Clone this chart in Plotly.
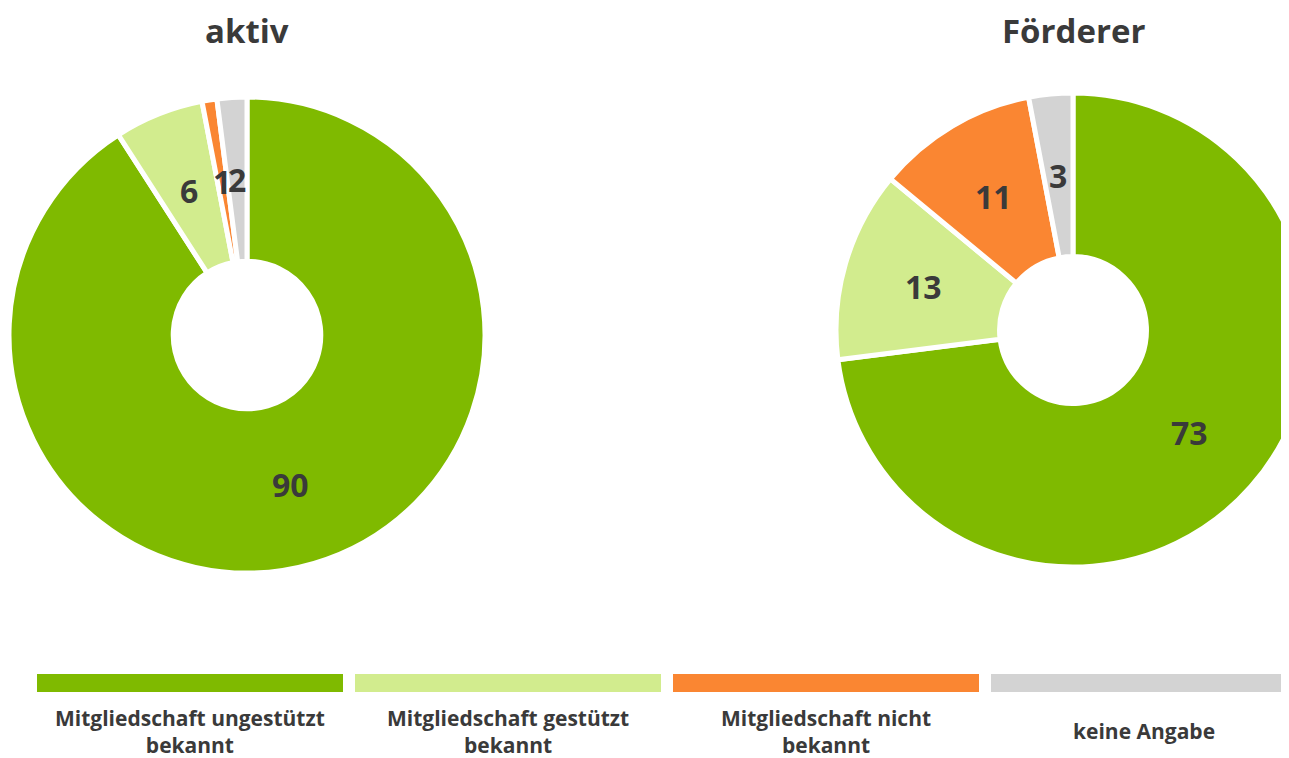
import numpy as np
import plotly.graph_objects as go

# page body has an 8px default margin; figure is drawn at (8, 8) in the window
OFF = 8
W, H = 1310, 750

# ---- data ----
categories = ["Mitgliedschaft ungestützt bekannt", "Mitgliedschaft gestützt bekannt",
              "Mitgliedschaft nicht bekannt", "keine Angabe"]
legend_labels = ["Mitgliedschaft ungestützt<br>bekannt", "Mitgliedschaft gestützt<br>bekannt",
                 "Mitgliedschaft nicht<br>bekannt", "keine Angabe"]
aktiv_values = [90, 6, 1, 2]
foerderer_values = [73, 13, 11, 3]
titles = ["aktiv", "Förderer"]

colors = ["#7FBA00", "#D2EC8E", "#FA8632", "#D3D3D3"]
TEXT = "#3A3A3A"
FONT = "Open Sans"

# ---- layout geometry (window pixels) ----
pies = [
    dict(values=aktiv_values, title=titles[0], cx=247, cy=335, r=238),
    dict(values=foerderer_values, title=titles[1], cx=1073, cy=330, r=237),
]
HOLE = 0.31

def px_x(x):
    return (x - OFF) / W

def px_y(y):
    return 1 - (y - OFF) / H

fig = go.Figure()
annotations = []

for p in pies:
    cx, cy, r = p["cx"], p["cy"], p["r"]
    fig.add_trace(go.Pie(
        labels=categories,
        values=p["values"],
        sort=False,
        direction="clockwise",
        rotation=0,
        hole=HOLE,
        textinfo="none",
        hoverinfo="label+value",
        showlegend=False,
        marker=dict(colors=colors, line=dict(color="white", width=5)),
        domain=dict(x=[px_x(cx - r), px_x(cx + r)],
                    y=[px_y(cy + r), px_y(cy - r)]),
    ))
    # data labels at mid-ring, mid-angle
    vals = np.array(p["values"], dtype=float)
    frac_mid = (np.cumsum(vals) - vals / 2) / vals.sum()
    rm = (r + r * HOLE) / 2
    for v, f in zip(p["values"], frac_mid):
        a = 2 * np.pi * f
        annotations.append(dict(
            x=px_x(cx + rm * np.sin(a)), y=px_y(cy - rm * np.cos(a)),
            xref="paper", yref="paper", showarrow=False,
            text=f"<b>{v}</b>", xanchor="center", yanchor="middle",
            font=dict(family=FONT, size=32, color=TEXT),
        ))
    annotations.append(dict(
        x=px_x(cx), y=px_y(31), xref="paper", yref="paper", showarrow=False,
        text=f"<b>{p['title']}</b>", xanchor="center", yanchor="middle",
        font=dict(family=FONT, size=33, color=TEXT),
    ))

# ---- custom legend: colored bars with labels below ----
shapes = []
bar_x0, bar_w, bar_gap = 37, 306, 12
for i, (lab, col) in enumerate(zip(legend_labels, colors)):
    x0 = bar_x0 + i * (bar_w + bar_gap)
    shapes.append(dict(type="rect", xref="paper", yref="paper",
                       x0=px_x(x0), x1=px_x(x0 + bar_w),
                       y0=px_y(692), y1=px_y(674),
                       fillcolor=col, line=dict(width=0), layer="above"))
    annotations.append(dict(
        x=px_x(x0 + bar_w / 2), y=px_y(731), xref="paper", yref="paper",
        showarrow=False, text=f"<b>{lab}</b>", xanchor="center", yanchor="middle",
        font=dict(family=FONT, size=21, color=TEXT),
    ))

fig.update_layout(
    width=W, height=H,
    margin=dict(l=0, r=0, t=0, b=0),
    paper_bgcolor="white", plot_bgcolor="white",
    annotations=annotations, shapes=shapes,
    showlegend=False,
)

fig.write_html("out.html")
